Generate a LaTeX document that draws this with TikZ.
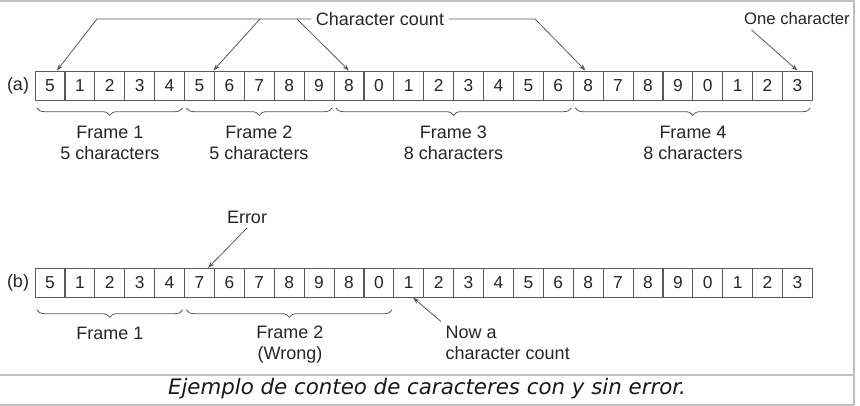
\documentclass[tikz,border=0pt]{standalone}
\usepackage{fontspec}
\setmainfont{Liberation Sans}
\newfontfamily\capfont{DejaVu Sans}
\usetikzlibrary{arrows.meta,decorations.pathreplacing}

\tikzset{
  cell/.style={draw=black!65, line width=0.6pt, minimum width=22.4pt, minimum height=21.75pt,
    inner sep=0pt, text=black!85, font=\fontsize{13}{15}\selectfont},
  lbl/.style={text=black!85, font=\fontsize{13.5}{15.75}\selectfont},
  ptr/.style={draw=black!65, line width=0.6pt, -{Stealth[length=5pt,width=3.5pt]}},
  frbrace/.style={draw=black!65, line width=0.6pt, decorate, decoration={brace, mirror, amplitude=5.5pt}},
  border/.style={draw=black!25, line width=1.5pt}
}

\begin{document}
\begin{tikzpicture}[x=0.75pt, y=-0.75pt]
  \useasboundingbox (0,0) rectangle (860,406);

  % Border and caption
  \draw[border] (0,1) -- (853.5,1) -- (853.5,405);
  \draw[border] (0,375) -- (853.5,375);
  \draw[border] (0,404.5) -- (853.5,404.5);
  \node[font=\capfont\itshape\fontsize{16}{19}\selectfont, text=black!90] (cap) at (427,389)
    {Ejemplo de conteo de caracteres con y sin error.};

  % Row (a)
  \node[lbl] (la) at (18,85.5) {(a)};
  \foreach \d [count=\i from 0] in {5,1,2,3,4,5,6,7,8,9,8,0,1,2,3,4,5,6,8,7,8,9,0,1,2,3}
    \node[cell] (a\i) at ({49.95+29.9*\i},85.5) {\d};

  \draw[frbrace] (37,108) -- (182.5,108);
  \draw[frbrace] (186.5,108) -- (332,108);
  \draw[frbrace] (336,108) -- (571.2,108);
  \draw[frbrace] (575.2,108) -- (810.4,108);

  \node[lbl, align=center] (fa1) at (110,142.5) {Frame 1\\5 characters};
  \node[lbl, align=center] (fa2) at (259,142.5) {Frame 2\\5 characters};
  \node[lbl, align=center] (fa3) at (453.5,142.5) {Frame 3\\8 characters};
  \node[lbl, align=center] (fa4) at (693,142.5) {Frame 4\\8 characters};

  % Character count pointers
  \node[lbl] (cc) at (380,19) {Character count};
  \coordinate (cc1) at (97,19);
  \coordinate (cc2) at (260,19);
  \coordinate (cc3) at (297,19);
  \coordinate (cc4) at (535,19);
  \draw[ptr] (cc.west) -- (cc1) -- (a0.65);
  \draw[ptr] (cc2) -- (a5.47);
  \draw[ptr] (cc3) -- (a10.north);
  \draw[ptr] (cc.east) -- (cc4) -- (a18.100);

  \node[lbl, font=\fontsize{12.5}{15}\selectfont] (oc) at (797,19) {One character};
  \draw[ptr] ([xshift=9pt]oc.south west) -- (a25.north);

  % Row (b)
  \node[lbl] (lb) at (18,282.8) {(b)};
  \foreach \d [count=\i from 0] in {5,1,2,3,4,7,6,7,8,9,8,0,1,2,3,4,5,6,8,7,8,9,0,1,2,3}
    \node[cell] (b\i) at ({49.95+29.9*\i},282.8) {\d};

  \draw[frbrace] (37,310) -- (182.5,310);
  \draw[frbrace] (186.5,310) -- (392,310);

  \node[lbl] (fb1) at (110,333) {Frame 1};
  \node[lbl, align=center] (fb2) at (290,345) {Frame 2\\(Wrong)};

  \node[lbl] (er) at (247,217) {Error};
  \draw[ptr] (er.south) -- (b5.60);

  \node[lbl, align=left, anchor=west] (nc) at (441,343) {Now a\\character count};
  \draw[ptr] (nc.north west) -- (b12.-74);
\end{tikzpicture}
\end{document}
